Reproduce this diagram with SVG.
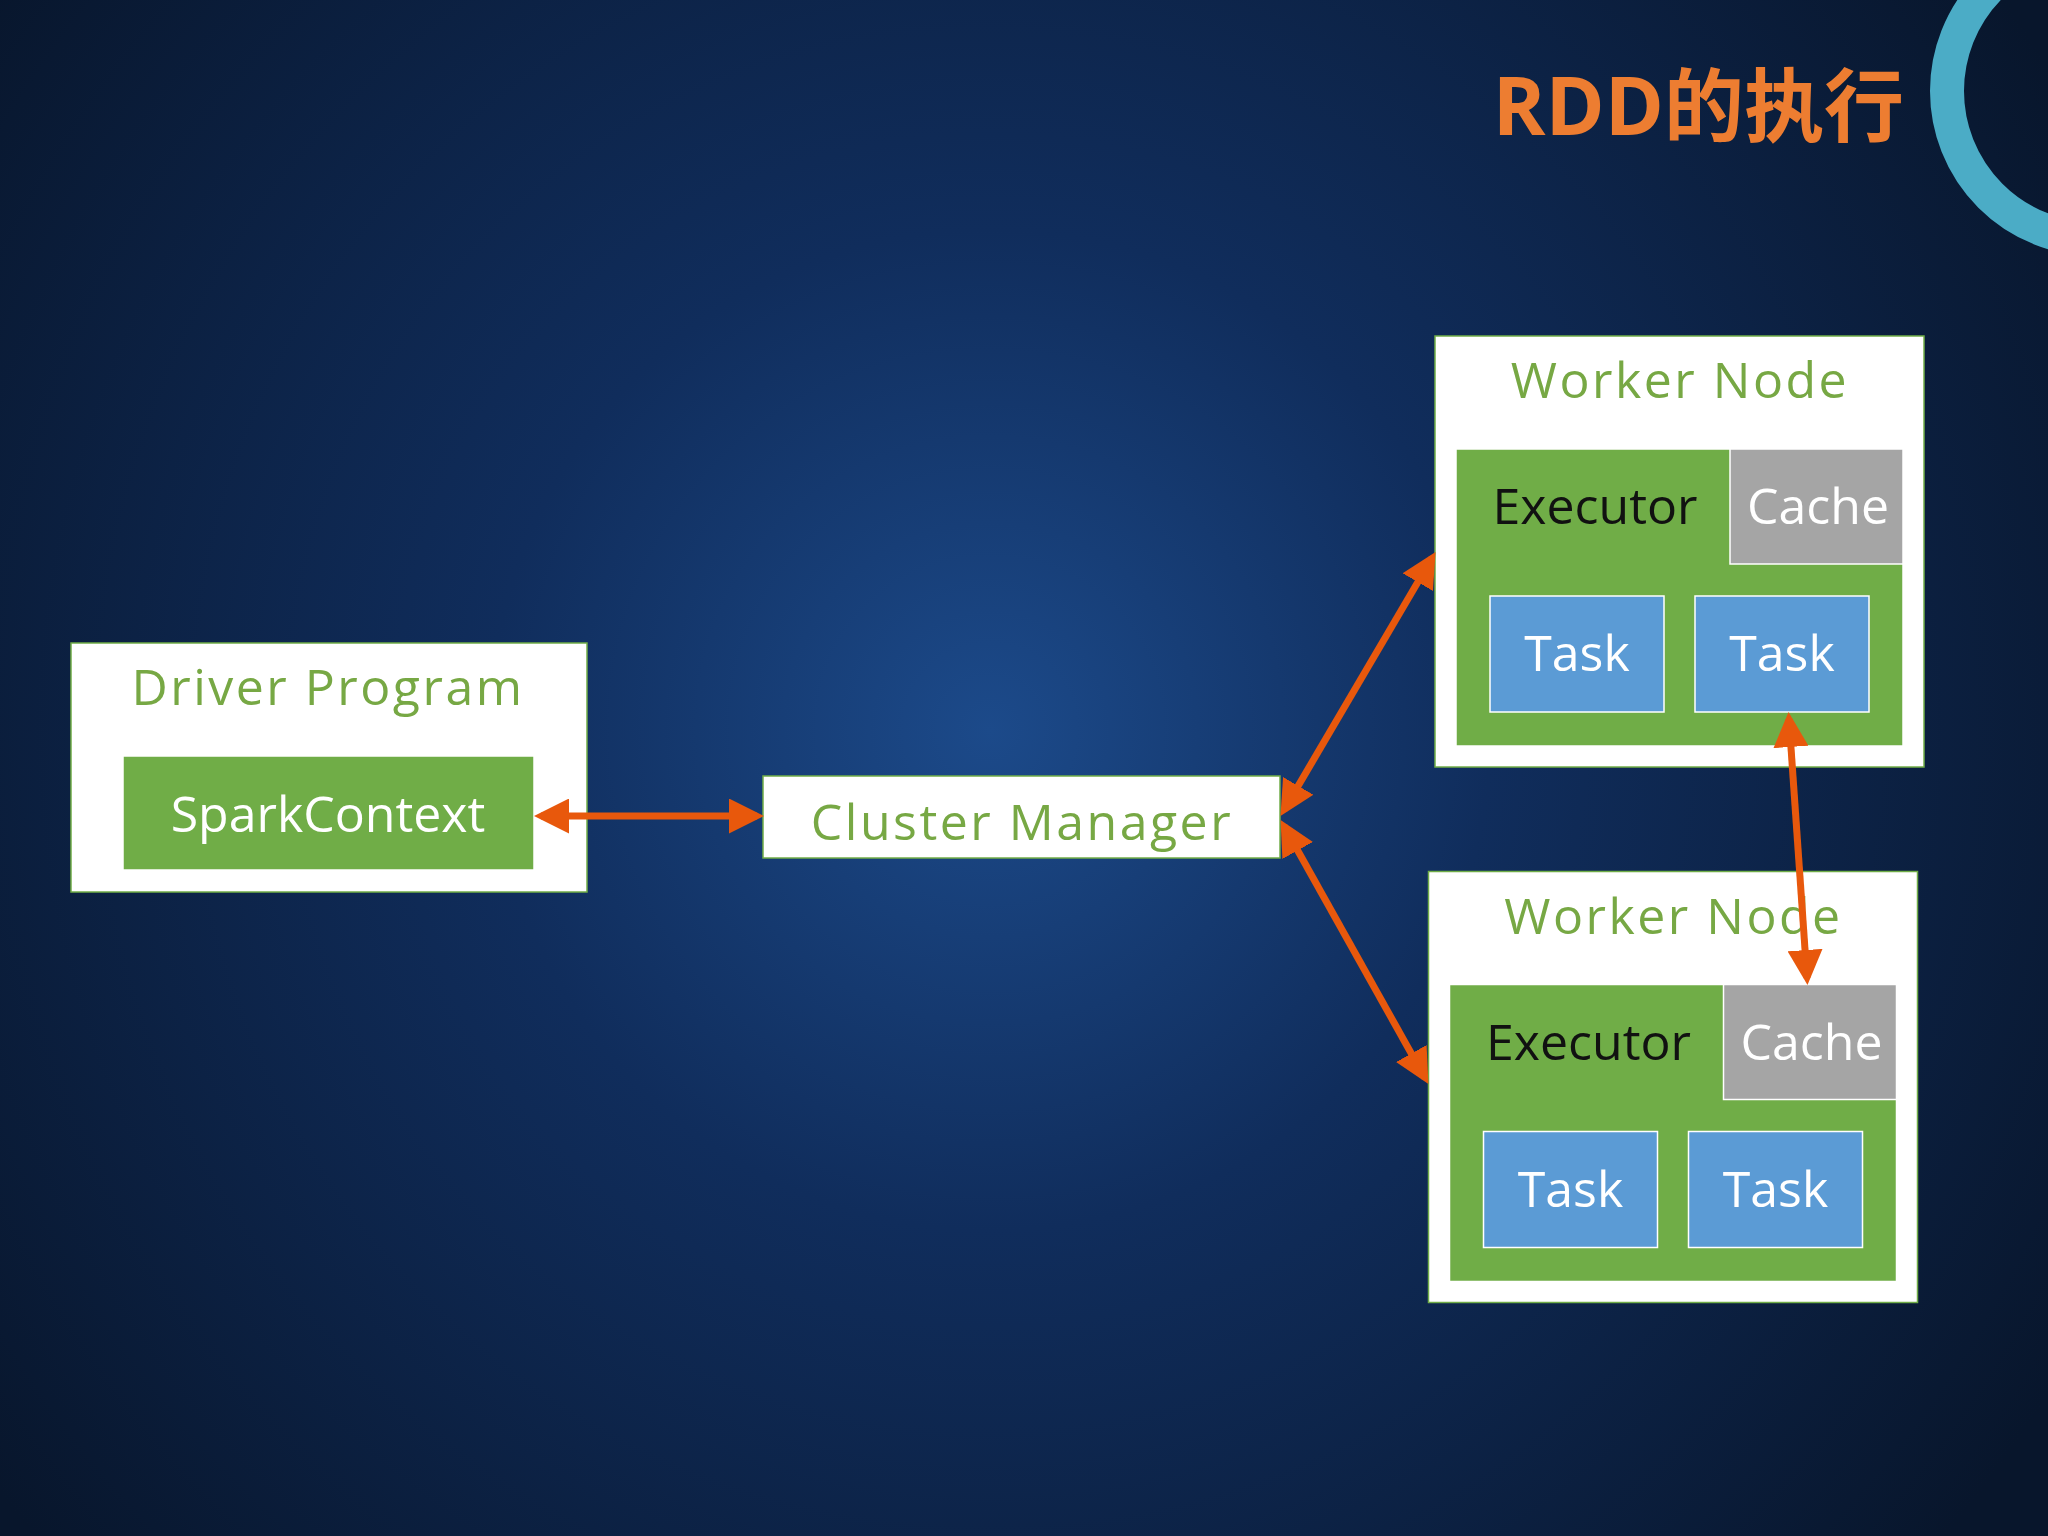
<svg xmlns="http://www.w3.org/2000/svg" width="2048" height="1536" viewBox="0 0 2048 1536">
<defs>
<radialGradient id="bg" cx="990" cy="730" r="1250" gradientUnits="userSpaceOnUse">
<stop offset="0" stop-color="#1c4a8a"/>
<stop offset="0.4" stop-color="#102d5c"/>
<stop offset="1" stop-color="#08162c"/>
</radialGradient>
<marker id="ah" viewBox="0 0 10 10" refX="8" refY="5" markerWidth="5" markerHeight="5" orient="auto-start-reverse">
<path d="M0,0 L10,5 L0,10 z" fill="#E8580C"/>
</marker>
<style>
.box{fill:#fff;stroke:#70AD47;stroke-width:1.5}
.green{fill:#70AD47;stroke:#fff;stroke-width:1.5}
.gray{fill:#a5a5a5;stroke:#fff;stroke-width:1.5}
.task{fill:#5B9BD5;stroke:#fff;stroke-width:1.5}
text{font-family:"Open Sans","Noto Sans",sans-serif;text-anchor:middle}
.gt{fill:#77A844;font-size:50px;letter-spacing:2.5px}
.wt{fill:#fff;font-size:50px}
.bt{fill:#111;font-size:50px}
.arr{stroke:#E8580C;stroke-width:7;fill:none;marker-start:url(#ah);marker-end:url(#ah)}
</style>
</defs>
<rect width="2048" height="1536" fill="url(#bg)"/>
<circle cx="2095" cy="91" r="148" fill="none" stroke="#4BACC6" stroke-width="34"/>
<text x="1904" y="135" text-anchor="end" style="text-anchor:end;font-family:'Open Sans','Noto Sans CJK SC',sans-serif;font-weight:bold;font-size:80px;fill:#ED7D31">RDD的执行</text>
<g id="driver">
<rect class="box" x="71" y="643" width="516" height="249"/>
<text class="gt" x="328" y="705">Driver Program</text>
<rect class="green" x="123" y="756" width="411" height="114"/>
<text class="wt" x="328" y="832">SparkContext</text>
</g>
<g id="cluster">
<rect class="box" x="763" y="776" width="517" height="82"/>
<text class="gt" x="1022" y="840">Cluster Manager</text>
</g>
<g id="worker1">
<rect class="box" x="1435" y="336" width="489" height="431"/>
<text class="gt" x="1680" y="398">Worker Node</text>
<rect class="green" x="1456" y="449" width="447" height="297"/>
<rect class="gray" x="1730" y="449" width="173" height="115"/>
<text class="bt" x="1595" y="524">Executor</text>
<text class="wt" x="1818" y="524">Cache</text>
<rect class="task" x="1490" y="596" width="174" height="116"/>
<text class="wt" x="1577" y="671">Task</text>
<rect class="task" x="1695" y="596" width="174" height="116"/>
<text class="wt" x="1782" y="671">Task</text>
</g>
<g id="worker2" transform="translate(-6.5,535.5)">
<rect class="box" x="1435" y="336" width="489" height="431"/>
<text class="gt" x="1680" y="398">Worker Node</text>
<rect class="green" x="1456" y="449" width="447" height="297"/>
<rect class="gray" x="1730" y="449" width="173" height="115"/>
<text class="bt" x="1595" y="524">Executor</text>
<text class="wt" x="1818" y="524">Cache</text>
<rect class="task" x="1490" y="596" width="174" height="116"/>
<text class="wt" x="1577" y="671">Task</text>
<rect class="task" x="1695" y="596" width="174" height="116"/>
<text class="wt" x="1782" y="671">Task</text>
</g>
<g id="connectors">
<line class="arr" x1="541" y1="816" x2="757" y2="816"/>
<line class="arr" x1="1284" y1="810" x2="1432" y2="558"/>
<line class="arr" x1="1284" y1="826" x2="1425" y2="1078"/>
<line class="arr" x1="1789" y1="719" x2="1807" y2="978"/>
</g>
</svg>
